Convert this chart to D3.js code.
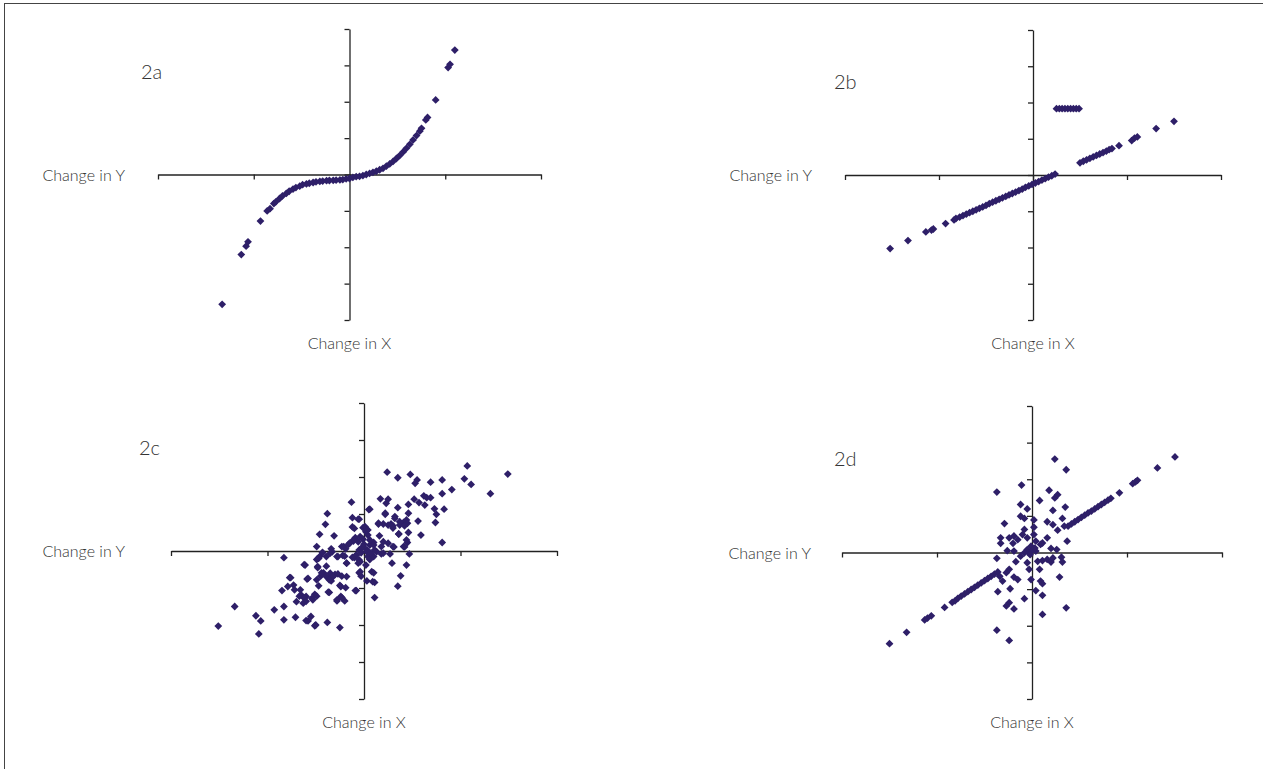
<!DOCTYPE html>
<html>
<head>
<meta charset="utf-8">
<script src="https://cdn.jsdelivr.net/npm/d3@7"></script>
<style>
  html, body { margin: 0; padding: 0; background: #fff; }
  svg text { font-family: Lato, "Noto Sans", sans-serif; font-weight: 300; fill: #333; }
</style>
</head>
<body>
<script>
// values, x in units of one x tick, y in units of one y tick
var panelLabels = ["2a", "2b", "2c", "2d"];
var xTicks = [-2, -1, 0, 1, 2];
var yTicks = [-4, -3, -2, -1, 0, 1, 2, 3, 4];

var pointsA = [
  [-1.33,-3.57],[-1.13,-2.20],[-1.08,-1.97],[-1.06,-1.85],[-0.93,-1.28],[-0.86,-1.00],[-0.83,-0.94],[-0.79,-0.80],
  [-0.77,-0.75],[-0.73,-0.66],[-0.70,-0.59],[-0.66,-0.52],[-0.63,-0.46],[-0.59,-0.40],[-0.56,-0.36],[-0.52,-0.32],
  [-0.49,-0.28],[-0.45,-0.26],[-0.42,-0.24],[-0.38,-0.22],[-0.35,-0.20],[-0.31,-0.19],[-0.28,-0.18],[-0.24,-0.17],
  [-0.21,-0.165],[-0.17,-0.16],[-0.14,-0.155],[-0.10,-0.15],[-0.07,-0.14],[-0.035,-0.12],[0.00,-0.11],[0.035,-0.08],
  [0.07,-0.06],[0.105,-0.05],[0.14,-0.03],[0.175,0.00],[0.21,0.03],[0.245,0.06],[0.28,0.09],[0.315,0.13],
  [0.35,0.17],[0.385,0.23],[0.42,0.29],[0.455,0.36],[0.49,0.44],[0.524,0.52],[0.56,0.62],[0.594,0.72],
  [0.63,0.83],[0.664,0.95],[0.70,1.07],[0.734,1.19],[0.752,1.27],[0.797,1.50],[0.815,1.57],[0.90,2.05],
  [1.03,2.94],[1.05,3.03],[1.10,3.42]
];

var pointsB = [
  [-1.52,-2.03],[-1.33,-1.81],[-1.14,-1.57],[-1.08,-1.52],[-1.06,-1.49],[-0.93,-1.34],[-0.84,-1.24],[-0.82,-1.20],
  [-0.78,-1.16],[-0.745,-1.12],[-0.71,-1.08],[-0.675,-1.04],[-0.64,-1.00],[-0.605,-0.96],[-0.57,-0.92],[-0.535,-0.88],
  [-0.50,-0.84],[-0.465,-0.79],[-0.43,-0.75],[-0.395,-0.71],[-0.36,-0.67],[-0.325,-0.63],[-0.29,-0.59],[-0.255,-0.55],
  [-0.22,-0.51],[-0.185,-0.47],[-0.15,-0.43],[-0.115,-0.39],[-0.08,-0.34],[-0.045,-0.30],[-0.01,-0.26],[0.025,-0.22],
  [0.06,-0.18],[0.095,-0.14],[0.13,-0.10],[0.165,-0.06],[0.20,-0.02],[0.235,0.025],
  [0.25,1.83],[0.28,1.83],[0.31,1.83],[0.34,1.83],[0.37,1.83],[0.40,1.83],[0.43,1.83],[0.46,1.83],[0.49,1.83],
  [0.50,0.335],[0.535,0.38],[0.57,0.42],[0.605,0.46],[0.64,0.50],[0.675,0.54],[0.71,0.58],[0.745,0.62],
  [0.78,0.66],[0.81,0.70],[0.84,0.73],[0.915,0.81],[1.05,0.95],[1.08,1.02],[1.11,1.05],[1.31,1.28],[1.50,1.48]
];

var pointsC = [
  [-0.13,1.32],[-0.38,1.01],[-0.40,0.72],[-0.12,0.90],[-0.05,0.86],[-0.12,0.65],[0.05,1.12],[-0.01,0.63],
  [0.02,0.52],[-0.46,0.45],[-0.31,0.41],[-0.09,0.36],[-0.11,0.27],[-0.16,0.18],[-0.21,0.12],[-0.19,0.06],
  [-0.49,0.12],[-0.34,0.06],[-0.33,-0.02],[-0.05,0.03],[-0.01,0.12],[0.03,0.03],[0.04,-0.15],[-0.08,-0.11],
  [-0.05,-0.24],[-0.10,-0.18],[-0.18,-0.33],[-0.20,-0.14],[-0.27,-0.15],[-0.43,-0.05],[-0.47,-0.20],[-0.83,-0.18],
  [-0.61,-0.38],[-0.48,-0.45],[-0.39,-0.41],[-0.42,-0.59],[-0.45,-0.68],[-0.49,-0.78],[-0.39,-0.69],[-0.34,-0.65],
  [-0.34,-0.81],[-0.30,-0.63],[-0.23,-0.68],[-0.18,-0.69],[-0.05,-0.59],[-0.03,-0.68],[0.03,-0.81],[-0.77,-0.72],
  [-0.58,-0.74],[-0.47,-0.94],[-0.51,-1.17],[-0.54,-1.28],[-0.60,-1.23],[-0.65,-1.19],[-0.70,-1.37],[-0.63,-1.41],
  [-0.73,-0.92],[-0.79,-0.96],[-0.85,-1.07],[-0.72,-1.05],[-0.24,-0.96],[-0.36,-1.12],[-0.09,-1.07],[-0.24,-1.23],
  [-0.28,-1.35],[-0.20,-1.35],[-1.34,-1.50],[-1.12,-1.75],[-1.07,-1.89],[-0.93,-1.59],[-0.83,-1.50],[-0.83,-1.86],
  [-0.71,-1.79],[-0.55,-1.77],[-0.58,-1.89],[-0.50,-2.00],[-0.38,-1.93],[-0.25,-2.07],[-1.09,-2.24],[-1.51,-2.03],
  [0.24,2.13],[0.35,1.98],[0.48,2.07],[0.55,1.92],[0.53,1.83],[0.69,1.86],[0.81,1.92],[1.07,2.30],
  [1.04,1.95],[1.11,1.80],[1.49,2.08],[1.31,1.55],[0.91,1.66],[0.81,1.55],[0.17,1.41],[0.25,1.40],
  [0.23,1.29],[0.35,1.17],[0.46,1.26],[0.52,1.40],[0.57,1.31],[0.62,1.49],[0.65,1.44],[0.69,1.44],
  [0.63,1.24],[0.73,1.14],[0.75,0.99],[0.83,1.13],[0.74,0.77],[0.56,0.81],[0.46,1.02],[0.44,0.84],
  [0.41,0.77],[0.37,0.70],[0.32,0.93],[0.30,0.68],[0.25,0.70],[0.22,0.99],[0.15,0.75],[0.06,1.13],
  [0.16,0.41],[0.36,0.46],[0.46,0.50],[0.59,0.43],[0.81,0.23],[0.25,0.21],[0.20,0.25],[0.10,0.23],
  [0.31,0.11],[0.42,0.11],[0.45,0.23],[0.47,-0.08],[0.27,-0.08],[0.20,-0.06],[0.29,-0.33],[0.44,-0.38],
  [0.38,-0.67],[0.35,-0.95],[0.11,-1.26],[0.11,-0.85],[0.08,-0.56],[0.18,-0.08],[0.13,-0.02],[0.06,0.16],
  [0.06,-0.15],[-0.01,0.32],[-0.02,0.09],[-0.06,0.25],[-0.08,-0.11],[-0.04,-0.29],[0.03,-0.02],[0.04,0.57],
  [0.01,0.66],[0.00,0.18],[-0.03,-0.05],[0.02,-0.38],
  [0.18,0.12],[0.11,0.03],[0.10,0.16],[0.06,0.30],[0.04,0.43],[0.06,-0.23],[0.10,-0.15],[-0.04,-0.56],
  [-0.06,-0.33],[-0.12,-0.17],[-0.18,-0.33],[-0.22,-0.12],[-0.28,-0.15],[-0.35,-0.06],[-0.39,-0.15],[-0.46,-0.15],
  [-0.49,-0.23],[-0.48,-0.42],[-0.44,-0.59],[-0.35,-0.60],[-0.32,-0.69],[-0.27,-0.62],[-0.25,-0.93],[-0.19,-0.99],
  [-0.36,-0.78],[-0.59,-0.76],[-0.62,-0.37],[-0.76,-0.72],[-0.66,-1.05],[-0.67,-1.22],[-0.62,-1.27],[-0.60,-1.36],
  [-0.53,-1.32],[-0.49,-1.22],[-0.28,-1.32],[-0.23,-1.26],[-0.37,-1.11],[-0.08,-1.07],[-0.60,-1.88],[-0.51,-2.02],
  [0.45,0.75],[0.42,0.68],[0.37,0.79],[0.32,0.88],[0.28,0.73],[0.20,0.73],[0.15,0.73],[0.22,1.02],
  [0.30,0.62],[0.36,0.46],[0.44,0.30],[0.41,0.12],[0.30,0.12],[0.07,-0.06],[0.10,-0.59],[0.09,-0.83],
  [-0.06,0.86],[-0.10,0.61],[0.03,0.56],[-0.04,0.39],[-0.11,0.30],[-0.15,0.21],[-0.23,0.12],[-0.43,-0.04]
];

var pointsD = [
  [-1.50,-2.49],[-1.32,-2.18],[-1.13,-1.84],[-1.10,-1.79],[-1.06,-1.73],[-0.92,-1.50],[-0.84,-1.36],[-0.81,-1.32],
  [-0.78,-1.25],[-0.745,-1.19],[-0.71,-1.13],[-0.675,-1.07],[-0.64,-1.01],[-0.605,-0.95],[-0.57,-0.89],[-0.535,-0.83],
  [-0.50,-0.77],[-0.465,-0.71],[-0.43,-0.65],[-0.395,-0.59],[-0.36,-0.53],
  [0.38,0.72],[0.415,0.78],[0.45,0.84],[0.485,0.90],[0.52,0.96],[0.555,1.02],[0.59,1.08],[0.625,1.13],
  [0.66,1.19],[0.695,1.25],[0.73,1.31],[0.765,1.37],[0.80,1.43],[0.83,1.48],[0.92,1.63],[1.06,1.88],
  [1.09,1.93],[1.11,1.97],[1.32,2.31],[1.505,2.61],
  [0.24,2.55],[0.36,2.26],[-0.37,1.65],[-0.11,1.84],[0.18,1.70],[0.24,1.49],[0.27,1.58],[0.08,1.42],
  [-0.12,1.31],[-0.05,1.19],[0.22,1.15],[0.35,1.24],[-0.12,0.99],[-0.08,0.93],[-0.29,0.79],[0.02,0.89],
  [0.16,0.84],[0.22,0.76],[0.32,0.93],[0.34,0.72],[0.27,0.61],[0.02,0.69],[-0.08,0.63],[-0.10,0.49],
  [-0.19,0.45],[-0.24,0.40],[-0.33,0.40],[-0.33,0.25],[-0.20,0.25],[-0.15,0.35],[-0.05,0.40],[0.02,0.49],
  [0.04,0.31],[0.11,0.26],[0.16,0.40],[0.09,0.22],[-0.01,0.17],[-0.05,0.08],[-0.08,-0.01],[-0.03,-0.01],
  [0.04,0.04],[0.20,0.11],[0.26,0.08],[0.37,0.31],[-0.26,0.05],[-0.19,0.04],[-0.37,-0.16],[-0.17,-0.25],
  [-0.12,-0.10],[-0.05,-0.28],[-0.03,-0.46],[-0.01,-0.74],[0.06,-0.24],[0.11,-0.22],[0.16,-0.19],[0.20,-0.26],
  [0.22,-0.15],[0.31,-0.13],[0.32,-0.26],[0.08,-0.46],[0.09,-0.78],[0.11,-0.85],[0.29,-0.67],[-0.19,-0.67],
  [-0.15,-0.74],[-0.27,-0.55],[-0.34,-0.65],[-0.24,-0.46],[-0.31,-0.78],[-0.36,-1.07],[-0.23,-0.99],[0.04,-1.04],
  [0.11,-1.17],[-0.08,-1.26],[-0.24,-1.37],[-0.27,-1.46],[-0.19,-1.54],[0.36,-1.51],[0.11,-1.69],[-0.37,-2.12],
  [-0.24,-2.40],[0.00,0.05],[0.03,0.12],[-0.02,-0.06]
];

var svg = d3.select("body").append("svg")
  .attr("width", 1263).attr("height", 769);

// page frame (only top and left edges show)
svg.append("rect")
  .attr("x", 4.5).attr("y", 3.5).attr("width", 1270).attr("height", 800)
  .attr("fill", "none").attr("stroke", "#444").attr("stroke-width", 1);

var panels = [
  { data: pointsA, xr: [158, 541], yr: [320, 29], lab: [141, 79], yLab: 125 },
  { data: pointsB, xr: [845, 1221], yr: [320, 30], lab: [834, 89], yLab: 812 },
  { data: pointsC, xr: [171, 557], yr: [699, 403], lab: [139, 455], yLab: 125 },
  { data: pointsD, xr: [842, 1222], yr: [699, 406], lab: [834, 466], yLab: 811 }
];

var diamond = "M0,-3.9L3.9,0L0,3.9L-3.9,0Z";

panels.forEach(function(p, i) {
  var x = d3.scaleLinear().domain([-2, 2]).range(p.xr);
  var y = d3.scaleLinear().domain([-4, 4]).range(p.yr);
  var g = svg.append("g");

  var xAxis = g.append("g")
    .attr("transform", "translate(0," + y(0) + ")")
    .call(d3.axisBottom(x).tickValues(xTicks).tickSize(5).tickSizeOuter(0).tickFormat(""));
  var yAxis = g.append("g")
    .attr("transform", "translate(" + x(0) + ",0)")
    .call(d3.axisLeft(y).tickValues(yTicks).tickSize(5).tickSizeOuter(0).tickFormat(""));
  [xAxis, yAxis].forEach(function(a) {
    a.selectAll("path, line").attr("stroke", "#222").attr("stroke-width", 1.3);
  });

  g.selectAll("path.pt")
    .data(p.data)
    .enter().append("path")
    .attr("class", "pt")
    .attr("d", diamond)
    .attr("transform", function(d) { return "translate(" + x(d[0]) + "," + y(d[1]) + ")"; })
    .attr("fill", "#2e1f68");

  g.append("text")
    .attr("x", p.lab[0]).attr("y", p.lab[1])
    .style("font-size", "20px")
    .text(panelLabels[i]);
  g.append("text")
    .attr("x", p.yLab).attr("y", y(0) + 6)
    .attr("text-anchor", "end")
    .style("font-size", "16px")
    .text("Change in Y");
  g.append("text")
    .attr("x", x(0)).attr("y", p.yr[0] + 29)
    .attr("text-anchor", "middle")
    .style("font-size", "16px")
    .text("Change in X");
});
</script>
</body>
</html>
